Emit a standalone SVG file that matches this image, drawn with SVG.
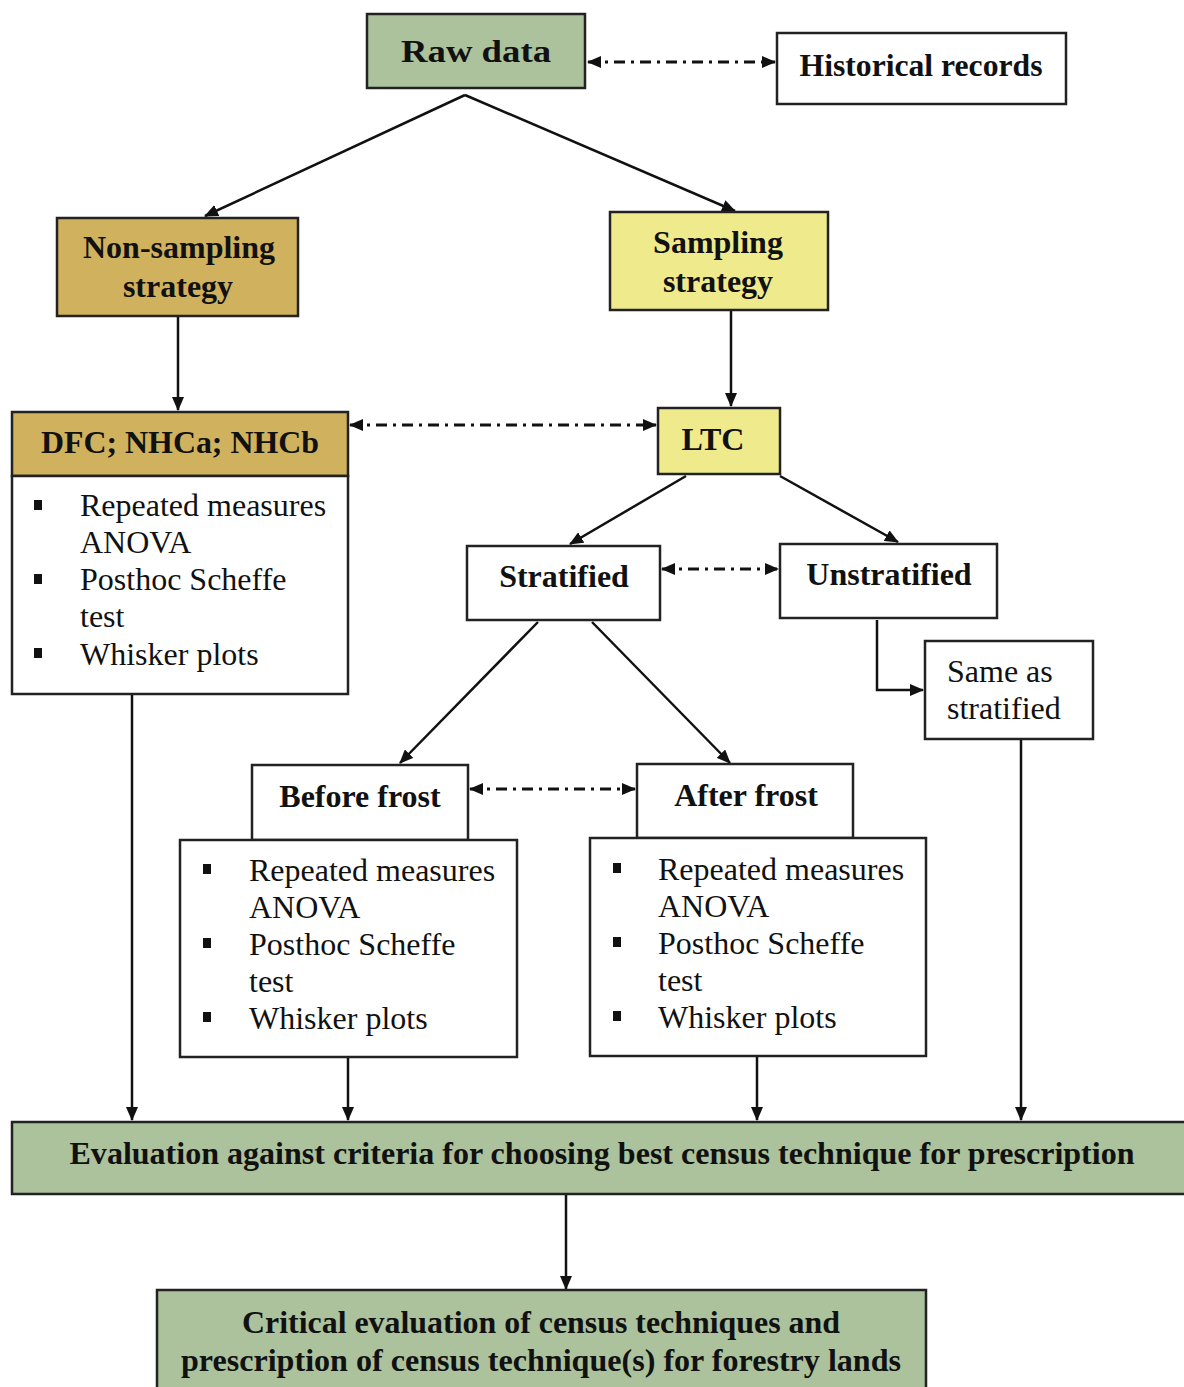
<svg xmlns="http://www.w3.org/2000/svg" width="1184" height="1387" viewBox="0 0 1184 1387">
<defs>
<marker id="ah" viewBox="0 0 14 12" refX="13" refY="6" markerWidth="14" markerHeight="12" markerUnits="userSpaceOnUse" orient="auto-start-reverse">
<path d="M0,0 L14,6 L0,12 Z" fill="#111"/>
</marker>
<style>
.box{stroke:#222;stroke-width:2.5}
.w{fill:#fff}
.g{fill:#abc29c}
.m{fill:#d0b25e}
.y{fill:#efeb8d}
.b{font-family:"Liberation Serif",serif;font-weight:bold;font-size:32px;fill:#111;text-anchor:middle}
.r{font-family:"Liberation Serif",serif;font-size:32px;fill:#111}
.sq{fill:#111}
.ln{stroke:#111;stroke-width:2.5;fill:none}
.dd{stroke:#111;stroke-width:3;fill:none;stroke-dasharray:11 6 3 6}
</style>
</defs>
<g id="connectors">
<path class="dd" d="M588,62 H775" marker-start="url(#ah)" marker-end="url(#ah)"/>
<path class="ln" d="M465,95 L205,216" marker-end="url(#ah)"/>
<path class="ln" d="M465,95 L735,211" marker-end="url(#ah)"/>
<path class="ln" d="M178,316 V410" marker-end="url(#ah)"/>
<path class="ln" d="M731,310 V406" marker-end="url(#ah)"/>
<path class="dd" d="M350,425 H656" marker-start="url(#ah)" marker-end="url(#ah)"/>
<path class="ln" d="M686,476 L570,544" marker-end="url(#ah)"/>
<path class="ln" d="M780,476 L898,542" marker-end="url(#ah)"/>
<path class="dd" d="M662,569 H778" marker-start="url(#ah)" marker-end="url(#ah)"/>
<path class="ln" d="M877,620 V690 H923" marker-end="url(#ah)"/>
<path class="ln" d="M538,622 L400,763" marker-end="url(#ah)"/>
<path class="ln" d="M592,622 L730,763" marker-end="url(#ah)"/>
<path class="dd" d="M470,789 H635" marker-start="url(#ah)" marker-end="url(#ah)"/>
<path class="ln" d="M132,688 V1120" marker-end="url(#ah)"/>
<path class="ln" d="M348,1058 V1120" marker-end="url(#ah)"/>
<path class="ln" d="M757,1057 V1120" marker-end="url(#ah)"/>
<path class="ln" d="M1021,735 V1120" marker-end="url(#ah)"/>
<path class="ln" d="M566,1195 V1289" marker-end="url(#ah)"/>
</g>
<g id="raw-data">
<rect class="box g" x="367" y="14" width="218" height="74"/>
<text class="b" x="476" y="62" font-size="35" textLength="150" lengthAdjust="spacingAndGlyphs">Raw data</text>
</g>
<g id="historical-records">
<rect class="box w" x="777" y="33" width="289" height="71"/>
<text class="b" x="921" y="76" textLength="243" lengthAdjust="spacingAndGlyphs">Historical records</text>
</g>
<g id="non-sampling">
<rect class="box m" x="57" y="218" width="241" height="98"/>
<text class="b" x="179" y="258">Non-sampling</text>
<text class="b" x="178" y="297">strategy</text>
</g>
<g id="sampling">
<rect class="box y" x="610" y="212" width="218" height="98"/>
<text class="b" x="718" y="253">Sampling</text>
<text class="b" x="718" y="292">strategy</text>
</g>
<g id="dfc">
<rect class="box m" x="12" y="412" width="336" height="64"/>
<text class="b" x="180" y="453" textLength="278" lengthAdjust="spacingAndGlyphs">DFC; NHCa; NHCb</text>
<rect class="box w" x="12" y="476" width="336" height="218"/>
<rect class="sq" x="34" y="500" width="8" height="10"/>
<rect class="sq" x="34" y="574" width="8" height="10"/>
<rect class="sq" x="34" y="648" width="8" height="10"/>
<text class="r" x="80" y="516">Repeated measures</text>
<text class="r" x="80" y="553">ANOVA</text>
<text class="r" x="80" y="590">Posthoc Scheffe</text>
<text class="r" x="80" y="627">test</text>
<text class="r" x="80" y="665">Whisker plots</text>
</g>
<g id="ltc">
<rect class="box y" x="658" y="408" width="122" height="66"/>
<text class="b" x="713" y="450">LTC</text>
</g>
<g id="stratified">
<rect class="box w" x="467" y="546" width="193" height="74"/>
<text class="b" x="564" y="587">Stratified</text>
</g>
<g id="unstratified">
<rect class="box w" x="780" y="544" width="217" height="74"/>
<text class="b" x="889" y="585">Unstratified</text>
</g>
<g id="same-as-stratified">
<rect class="box w" x="925" y="641" width="168" height="98"/>
<text class="r" x="947" y="682">Same as</text>
<text class="r" x="947" y="719">stratified</text>
</g>
<g id="before-frost">
<rect class="box w" x="252" y="765" width="216" height="75"/>
<text class="b" x="360" y="807">Before frost</text>
<rect class="box w" x="180" y="840" width="337" height="217"/>
<rect class="sq" x="203" y="864" width="8" height="10"/>
<rect class="sq" x="203" y="938" width="8" height="10"/>
<rect class="sq" x="203" y="1012" width="8" height="10"/>
<text class="r" x="249" y="881">Repeated measures</text>
<text class="r" x="249" y="918">ANOVA</text>
<text class="r" x="249" y="955">Posthoc Scheffe</text>
<text class="r" x="249" y="992">test</text>
<text class="r" x="249" y="1029">Whisker plots</text>
</g>
<g id="after-frost">
<rect class="box w" x="637" y="764" width="216" height="74"/>
<text class="b" x="746" y="806">After frost</text>
<rect class="box w" x="590" y="838" width="336" height="218"/>
<rect class="sq" x="613" y="863" width="8" height="10"/>
<rect class="sq" x="613" y="937" width="8" height="10"/>
<rect class="sq" x="613" y="1011" width="8" height="10"/>
<text class="r" x="658" y="880">Repeated measures</text>
<text class="r" x="658" y="917">ANOVA</text>
<text class="r" x="658" y="954">Posthoc Scheffe</text>
<text class="r" x="658" y="991">test</text>
<text class="r" x="658" y="1028">Whisker plots</text>
</g>
<g id="evaluation">
<rect class="box g" x="12" y="1122" width="1180" height="72"/>
<text class="b" x="602" y="1164" textLength="1065" lengthAdjust="spacingAndGlyphs">Evaluation against criteria for choosing best census technique for prescription</text>
</g>
<g id="critical-evaluation">
<rect class="box g" x="157" y="1290" width="769" height="100"/>
<text class="b" x="541" y="1333" textLength="598" lengthAdjust="spacingAndGlyphs">Critical evaluation of census techniques and</text>
<text class="b" x="541" y="1371" textLength="720" lengthAdjust="spacingAndGlyphs">prescription of census technique(s) for forestry lands</text>
</g>
</svg>
